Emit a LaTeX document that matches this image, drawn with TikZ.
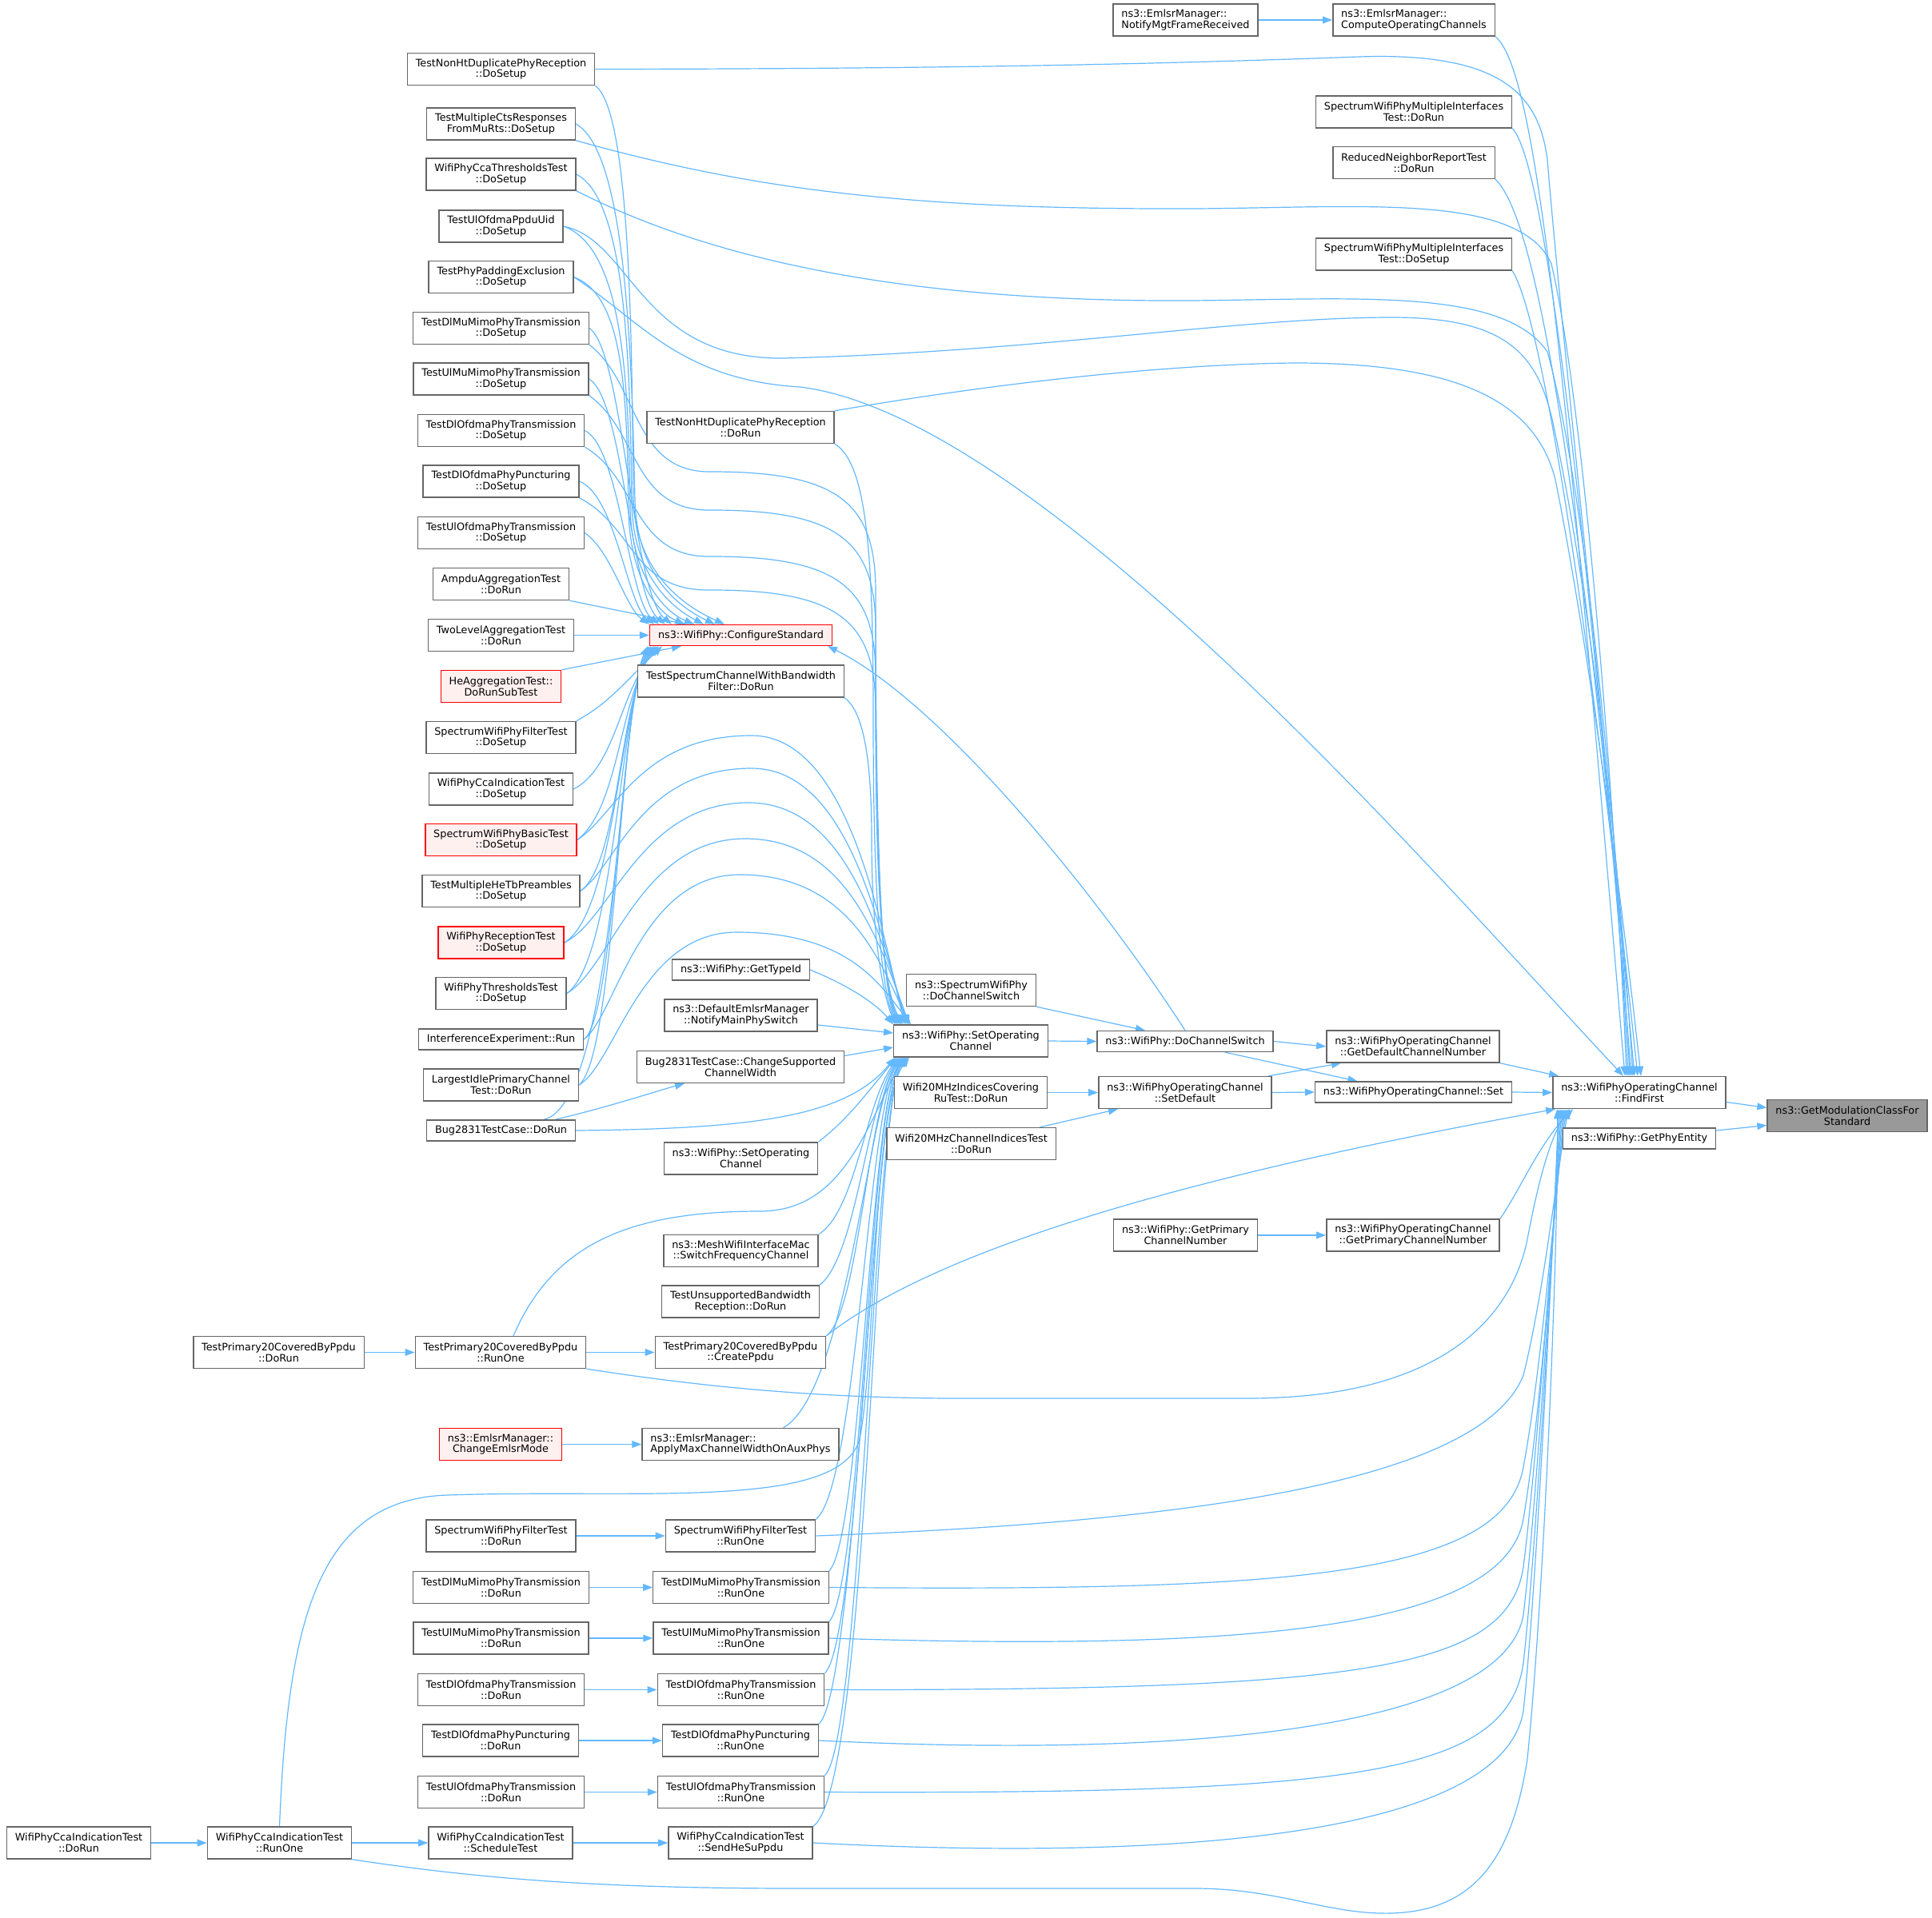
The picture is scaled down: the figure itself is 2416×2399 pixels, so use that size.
\documentclass[tikz,border=0pt]{standalone}
\usepackage{fontspec}
\setmainfont{DejaVu Sans}
\usetikzlibrary{arrows.meta,backgrounds}
\definecolor{edgeblue}{HTML}{63B8FF}
\definecolor{nodegray}{HTML}{666666}
\definecolor{hotfill}{HTML}{FFF0F0}
\definecolor{rootgray}{HTML}{999999}
\tikzset{
  fn/.style={draw=nodegray, line width=0.7pt, fill=white, align=center,
    font=\fontsize{6.4}{6.9}\selectfont, inner xsep=5.2pt, inner ysep=1pt,
    minimum height=20pt},
  one/.style={minimum height=13pt},
  lft/.style={align=left},
  hot/.style={draw=red, fill=hotfill},
  root/.style={fill=rootgray},
  call/.style={draw=edgeblue, line width=0.6pt, -{Triangle[length=6pt,width=4.4pt]}},
}
\begin{document}
\begin{tikzpicture}[x=0.5pt,y=-0.5pt]
      \useasboundingbox (0,0) rectangle (2416,2399);
      \node[fn,root] (gmc) at (2310,1395.5) {ns3::GetModulationClassFor\\Standard};
      \node[fn] (ff) at (2050,1366.5) {ns3::WifiPhyOperatingChannel\\::FindFirst};
      \node[fn,one] (gpe) at (2050,1424) {ns3::WifiPhy::GetPhyEntity};
      \node[fn,lft] (nmf) at (1482.5,25) {ns3::EmlsrManager::\\NotifyMgtFrameReceived};
      \node[fn,lft] (coc) at (1768,25) {ns3::EmlsrManager::\\ComputeOperatingChannels};
      \node[fn] (mirun) at (1768,140) {SpectrumWifiPhyMultipleInterfaces\\Test::DoRun};
      \node[fn] (rnr) at (1768,203.5) {ReducedNeighborReportTest\\::DoRun};
      \node[fn] (misetup) at (1768,318) {SpectrumWifiPhyMultipleInterfaces\\Test::DoSetup};
      \node[fn] (gdcn) at (1767,1309) {ns3::WifiPhyOperatingChannel\\::GetDefaultChannelNumber};
      \node[fn,one] (opset) at (1767.5,1366) {ns3::WifiPhyOperatingChannel::Set};
      \node[fn] (gpcn) at (1767,1545) {ns3::WifiPhyOperatingChannel\\::GetPrimaryChannelNumber};
      \node[fn,one] (dcs) at (1482,1302.5) {ns3::WifiPhy::DoChannelSwitch};
      \node[fn] (setdef) at (1482,1366.5) {ns3::WifiPhyOperatingChannel\\::SetDefault};
      \node[fn] (phygpcn) at (1482.5,1545) {ns3::WifiPhy::GetPrimary\\ChannelNumber};
      \node[fn] (swdcs) at (1214.5,1238.5) {ns3::SpectrumWifiPhy\\::DoChannelSwitch};
      \node[fn] (soc) at (1214,1302) {ns3::WifiPhy::SetOperating\\Channel};
      \node[fn] (covru) at (1214,1366.5) {Wifi20MHzIndicesCovering\\RuTest::DoRun};
      \node[fn] (chidx) at (1214.5,1430.5) {Wifi20MHzChannelIndicesTest\\::DoRun};
      \node[fn] (nhrun) at (926,534.5) {TestNonHtDuplicatePhyReception\\::DoRun};
      \node[fn,one,hot] (cs) at (926.5,794.5) {ns3::WifiPhy::ConfigureStandard};
      \node[fn] (scbw) at (926.5,852) {TestSpectrumChannelWithBandwidth\\Filter::DoRun};
      \node[fn,one] (gtid) at (926.5,1213) {ns3::WifiPhy::GetTypeId};
      \node[fn] (nmps) at (926.5,1270) {ns3::DefaultEmlsrManager\\::NotifyMainPhySwitch};
      \node[fn] (csw) at (926,1334.5) {Bug2831TestCase::ChangeSupported\\ChannelWidth};
      \node[fn] (soc2) at (926.5,1449) {ns3::WifiPhy::SetOperating\\Channel};
      \node[fn] (mesh) at (926.5,1564.5) {ns3::MeshWifiInterfaceMac\\::SwitchFrequencyChannel};
      \node[fn] (unsup) at (926,1628) {TestUnsupportedBandwidth\\Reception::DoRun};
      \node[fn] (p20cp) at (926,1691.5) {TestPrimary20CoveredByPpdu\\::CreatePpdu};
      \node[fn,lft] (amcw) at (926,1806.5) {ns3::EmlsrManager::\\ApplyMaxChannelWidthOnAuxPhys};
      \node[fn] (fltrun) at (926,1921) {SpectrumWifiPhyFilterTest\\::RunOne};
      \node[fn] (dlmmrun) at (926.5,1985.5) {TestDlMuMimoPhyTransmission\\::RunOne};
      \node[fn] (ulmmrun) at (926.5,2049) {TestUlMuMimoPhyTransmission\\::RunOne};
      \node[fn] (dlofrun) at (926.5,2113.5) {TestDlOfdmaPhyTransmission\\::RunOne};
      \node[fn] (puncrun) at (926,2177) {TestDlOfdmaPhyPuncturing\\::RunOne};
      \node[fn] (ulofrun) at (926.5,2241.5) {TestUlOfdmaPhyTransmission\\::RunOne};
      \node[fn] (sendsu) at (926,2305) {WifiPhyCcaIndicationTest\\::SendHeSuPpdu};
      \node[fn] (nhsetup) at (626.5,86.5) {TestNonHtDuplicatePhyReception\\::DoSetup};
      \node[fn] (ctssetup) at (626.5,155) {TestMultipleCtsResponses\\FromMuRts::DoSetup};
      \node[fn] (ccathr) at (626.5,218) {WifiPhyCcaThresholdsTest\\::DoSetup};
      \node[fn] (ppduuid) at (626.5,283) {TestUlOfdmaPpduUid\\::DoSetup};
      \node[fn] (padding) at (626.5,346.5) {TestPhyPaddingExclusion\\::DoSetup};
      \node[fn] (dlmmsetup) at (626.5,410.5) {TestDlMuMimoPhyTransmission\\::DoSetup};
      \node[fn] (ulmmsetup) at (626.5,474) {TestUlMuMimoPhyTransmission\\::DoSetup};
      \node[fn] (dlofsetup) at (626.5,538.5) {TestDlOfdmaPhyTransmission\\::DoSetup};
      \node[fn] (puncsetup) at (626.5,602) {TestDlOfdmaPhyPuncturing\\::DoSetup};
      \node[fn] (ulofsetup) at (626.5,666.5) {TestUlOfdmaPhyTransmission\\::DoSetup};
      \node[fn] (ampdu) at (626.5,730.5) {AmpduAggregationTest\\::DoRun};
      \node[fn] (twolevel) at (626.5,794.5) {TwoLevelAggregationTest\\::DoRun};
      \node[fn,hot] (heagg) at (626.5,858.5) {HeAggregationTest::\\DoRunSubTest};
      \node[fn] (fltsetup) at (626.5,922.5) {SpectrumWifiPhyFilterTest\\::DoSetup};
      \node[fn] (ccasetup) at (626.5,987) {WifiPhyCcaIndicationTest\\::DoSetup};
      \node[fn,hot] (basic) at (626.5,1050.5) {SpectrumWifiPhyBasicTest\\::DoSetup};
      \node[fn] (hetb) at (626.5,1114.5) {TestMultipleHeTbPreambles\\::DoSetup};
      \node[fn,hot] (rxtest) at (626.5,1179) {WifiPhyReceptionTest\\::DoSetup};
      \node[fn] (thrtest) at (626.5,1242.5) {WifiPhyThresholdsTest\\::DoSetup};
      \node[fn,one] (interf) at (626.5,1300) {InterferenceExperiment::Run};
      \node[fn] (largest) at (626.5,1357) {LargestIdlePrimaryChannel\\Test::DoRun};
      \node[fn,one] (bug) at (626.5,1414) {Bug2831TestCase::DoRun};
      \node[fn] (p20run) at (626,1691.5) {TestPrimary20CoveredByPpdu\\::RunOne};
      \node[fn,hot] (cem) at (626,1806.5) {ns3::EmlsrManager::\\ChangeEmlsrMode};
      \node[fn] (fltdorun) at (626.5,1921) {SpectrumWifiPhyFilterTest\\::DoRun};
      \node[fn] (dlmmdorun) at (626.5,1985.5) {TestDlMuMimoPhyTransmission\\::DoRun};
      \node[fn] (ulmmdorun) at (626.5,2049) {TestUlMuMimoPhyTransmission\\::DoRun};
      \node[fn] (dlofdorun) at (626.5,2113.5) {TestDlOfdmaPhyTransmission\\::DoRun};
      \node[fn] (puncdorun) at (626,2177) {TestDlOfdmaPhyPuncturing\\::DoRun};
      \node[fn] (ulofdorun) at (626.5,2241.5) {TestUlOfdmaPhyTransmission\\::DoRun};
      \node[fn] (sched) at (626,2305) {WifiPhyCcaIndicationTest\\::ScheduleTest};
      \node[fn] (p20dorun) at (348.5,1691.5) {TestPrimary20CoveredByPpdu\\::DoRun};
      \node[fn] (ccarun) at (349.5,2305) {WifiPhyCcaIndicationTest\\::RunOne};
      \node[fn] (ccadorun) at (98.5,2305) {WifiPhyCcaIndicationTest\\::DoRun};
      \begin{scope}[on background layer]
        \draw[call] (nmf.east) -- (coc.west);
        \draw[call] ([yshift=-6pt]ff.east) -- ([yshift=5pt]gmc.west);
        \draw[call] ([yshift=5pt]gpe.east) -- ([yshift=-6pt]gmc.west);
        \draw[call] (gdcn.south east) -- ([xshift=4pt]ff.north west);
        \draw[call] (opset.east) -- (ff.west);
        \draw[call] (gpcn.north east) .. controls (1900,1490) and (1925,1430) .. ([xshift=13pt]ff.south west);
        \draw[call] (phygpcn.east) -- (gpcn.west);
        \draw[call] (soc.east) -- (dcs.west);
        \draw[call] (swdcs.south east) -- ([xshift=-25pt]dcs.north);
        \draw[call] (dcs.east) -- (gdcn.west);
        \draw[call] ([xshift=25pt]dcs.south) -- ([xshift=-35pt]opset.north);
        \draw[call] ([xshift=52pt]setdef.north) -- ([xshift=-45pt]gdcn.south);
        \draw[call] (setdef.east) -- (opset.west);
        \draw[call] (covru.east) -- (setdef.west);
        \draw[call] ([xshift=43pt]chidx.north) -- ([xshift=-42pt]setdef.south);
        \draw[call] (dcs.north) .. controls (1380,1130) and (1180,880) .. ([xshift=-3pt]cs.south east);
        \draw[call] (coc.south east) .. controls (1925,90) and (1960,500) .. ([xshift=-9pt]ff.north);
        \draw[call] (nhsetup.east) .. controls (1200,86) and (1450,80) .. (1700,71) .. controls (1880,65) and (1925,120) .. (1935,200) .. controls (1960,500) and (2020,1000) .. ([xshift=-7pt]ff.north);
        \draw[call] (mirun.south east) .. controls (1930,200) and (1980,600) .. ([xshift=-5pt]ff.north);
        \draw[call] (ctssetup.south east) .. controls (950,240) and (1150,262) .. (1490,261) .. controls (1700,260) and (1900,240) .. (1940,330) .. controls (1980,500) and (2020,1000) .. ([xshift=-8pt]ff.north);
        \draw[call] (rnr.south east) .. controls (1930,280) and (1985,700) .. ([xshift=-3pt]ff.north);
        \draw[call] (ccathr.south east) .. controls (900,330) and (1150,378) .. (1490,376) .. controls (1700,374) and (1880,360) .. (1935,440) .. controls (1980,600) and (2020,1000) .. ([xshift=-6pt]ff.north);
        \draw[call] (misetup.south east) .. controls (1930,400) and (1990,800) .. ([xshift=-1pt]ff.north);
        \draw[call] (ppduuid.east) .. controls (790,300) and (800,450) .. (980,448) .. controls (1300,440) and (1550,397) .. (1740,397) .. controls (1880,397) and (1920,440) .. (1940,520) .. controls (1980,700) and (2020,1000) .. ([xshift=-4pt]ff.north);
        \draw[call] (nhrun.north east) .. controls (1300,470) and (1500,455) .. (1620,454) .. controls (1820,454) and (1920,500) .. (1945,600) .. controls (1985,800) and (2025,1100) .. ([xshift=1pt]ff.north);
        \draw[call] (padding.east) .. controls (800,400) and (850,475) .. (1000,484) .. controls (1300,520) and (1800,1100) .. ([xshift=-10pt]ff.north);
        \draw[call] (p20cp.north east) .. controls (1200,1540) and (1600,1450) .. ([xshift=2pt]ff.south west);
        \draw[call] (p20run.south east) .. controls (850,1730) and (1000,1749) .. (1200,1749) -- (1560,1749) .. controls (1800,1749) and (1890,1650) .. (1910,1550) .. controls (1925,1470) and (1940,1420) .. ([xshift=11pt]ff.south west);
        \draw[call] (fltrun.east) .. controls (1450,1905) and (1850,1860) .. (1905,1720) .. controls (1930,1620) and (1945,1480) .. ([xshift=10pt]ff.south west);
        \draw[call] (dlmmrun.east) .. controls (1600,1990) and (1880,1975) .. (1905,1835) .. controls (1930,1700) and (1945,1480) .. ([xshift=9pt]ff.south west);
        \draw[call] (ulmmrun.east) .. controls (1550,2065) and (1880,2040) .. (1905,1900) .. controls (1930,1750) and (1945,1480) .. ([xshift=8pt]ff.south west);
        \draw[call] (dlofrun.east) .. controls (1700,2114) and (1885,2090) .. (1905,1960) .. controls (1925,1800) and (1945,1480) .. ([xshift=7pt]ff.south west);
        \draw[call] (puncrun.east) .. controls (1500,2200) and (1880,2160) .. (1905,2020) .. controls (1925,1850) and (1945,1480) .. ([xshift=6pt]ff.south west);
        \draw[call] (ulofrun.east) .. controls (1700,2244) and (1885,2220) .. (1905,2080) .. controls (1925,1900) and (1945,1480) .. ([xshift=5pt]ff.south west);
        \draw[call] (sendsu.east) .. controls (1500,2330) and (1880,2290) .. (1905,2140) .. controls (1925,1950) and (1945,1480) .. ([xshift=4pt]ff.south west);
        \draw[call] (ccarun.south east) .. controls (600,2350) and (750,2362) .. (1000,2362) -- (1494,2362) .. controls (1600,2362) and (1660,2395) .. (1740,2393) .. controls (1840,2390) and (1890,2330) .. (1910,2200) .. controls (1935,1950) and (1950,1480) .. ([xshift=3pt]ff.south west);
        \draw[call] (nhsetup.south east) .. controls (790,140) and (790,450) .. (792,620) .. controls (794,720) and (860,760) .. ([xshift=47pt]cs.north west);
        \draw[call] (ctssetup.east) .. controls (785,190) and (790,460) .. (794,625) .. controls (796,720) and (850,760) .. ([xshift=41pt]cs.north west);
        \draw[call] (ccathr.east) .. controls (785,250) and (788,470) .. (790,630) .. controls (792,720) and (840,760) .. ([xshift=34pt]cs.north west);
        \draw[call] (ppduuid.east) .. controls (780,310) and (786,480) .. (788,635) .. controls (790,720) and (830,765) .. ([xshift=28pt]cs.north west);
        \draw[call] (padding.east) .. controls (780,370) and (784,490) .. (786,640) .. controls (788,720) and (820,765) .. ([xshift=22pt]cs.north west);
        \draw[call] (dlmmsetup.east) .. controls (780,440) and (790,740) .. ([xshift=14pt]cs.north west);
        \draw[call] (ulmmsetup.east) .. controls (780,500) and (788,745) .. ([xshift=10pt]cs.north west);
        \draw[call] (dlofsetup.east) .. controls (775,560) and (786,750) .. ([xshift=6pt]cs.north west);
        \draw[call] (puncsetup.east) .. controls (770,620) and (784,755) .. ([xshift=3pt]cs.north west);
        \draw[call] (ulofsetup.east) .. controls (765,690) and (782,760) .. (cs.north west);
        \draw[call] (ampdu.south east) -- ([xshift=23pt]cs.north west);
        \draw[call] (twolevel.east) -- (cs.west);
        \draw[call] (heagg.north east) -- ([xshift=20pt]cs.south west);
        \draw[call] (fltsetup.north east) .. controls (760,880) and (775,860) .. ([xshift=8pt]cs.south west);
        \draw[call] (ccasetup.east) .. controls (770,960) and (775,865) .. ([xshift=6pt]cs.south west);
        \draw[call] (basic.east) .. controls (775,1010) and (775,870) .. ([xshift=5pt]cs.south west);
        \draw[call] (hetb.east) .. controls (775,1080) and (775,870) .. ([xshift=4pt]cs.south west);
        \draw[call] (rxtest.east) .. controls (770,1140) and (775,875) .. ([xshift=3pt]cs.south west);
        \draw[call] (thrtest.east) .. controls (770,1200) and (775,875) .. ([xshift=2pt]cs.south west);
        \draw[call] (interf.east) .. controls (770,1270) and (775,880) .. ([xshift=1pt]cs.south west);
        \draw[call] (largest.east) .. controls (770,1320) and (775,880) .. (cs.south west);
        \draw[call] ([xshift=-20pt]bug.north east) .. controls (770,1380) and (775,885) .. ([xshift=-1pt]cs.south west);
        \draw[call] (dlmmsetup.south east) .. controls (800,480) and (790,592) .. (890,590) .. controls (1050,590) and (1095,630) .. (1095,740) .. controls (1095,1000) and (1100,1230) .. ([xshift=3pt]soc.north west);
        \draw[call] (ulmmsetup.south east) .. controls (800,540) and (790,640) .. (890,638) .. controls (1050,638) and (1095,678) .. (1095,788) .. controls (1095,1020) and (1100,1230) .. ([xshift=4pt]soc.north west);
        \draw[call] (dlofsetup.south east) .. controls (800,600) and (790,698) .. (890,696) .. controls (1050,696) and (1095,736) .. (1095,846) .. controls (1095,1040) and (1100,1230) .. ([xshift=5pt]soc.north west);
        \draw[call] (puncsetup.south east) .. controls (795,660) and (790,740) .. (890,738) .. controls (1050,738) and (1095,778) .. (1095,888) .. controls (1095,1060) and (1100,1230) .. ([xshift=6pt]soc.north west);
        \draw[call] (nhrun.south east) .. controls (1085,580) and (1092,700) .. (1092,900) .. controls (1092,1100) and (1100,1230) .. ([xshift=2pt]soc.north west);
        \draw[call] (scbw.south east) .. controls (1080,890) and (1090,950) .. (1090,1050) .. controls (1090,1150) and (1100,1230) .. ([xshift=1pt]soc.north west);
        \draw[call] (basic.east) .. controls (770,1020) and (800,920) .. (940,920) .. controls (1060,920) and (1100,1150) .. ([xshift=7pt]soc.north west);
        \draw[call] (hetb.east) .. controls (770,1085) and (800,961) .. (940,961) .. controls (1060,961) and (1100,1160) .. ([xshift=8pt]soc.north west);
        \draw[call] (rxtest.east) .. controls (765,1150) and (800,1004) .. (936,1004) .. controls (1060,1004) and (1100,1170) .. ([xshift=9pt]soc.north west);
        \draw[call] (thrtest.east) .. controls (765,1210) and (800,1049) .. (932,1049) .. controls (1060,1049) and (1100,1180) .. ([xshift=10pt]soc.north west);
        \draw[call] (interf.east) .. controls (770,1270) and (800,1094) .. (925,1094) .. controls (1060,1094) and (1100,1200) .. ([xshift=10pt]soc.north west);
        \draw[call] (largest.east) .. controls (770,1330) and (800,1166) .. (921,1166) .. controls (1060,1166) and (1100,1230) .. ([xshift=11pt]soc.north west);
        \draw[call] (gtid.east) .. controls (1060,1232) and (1095,1255) .. (soc.north west);
        \draw[call] ([yshift=-6pt]nmps.east) -- ([yshift=5pt]soc.west);
        \draw[call] ([yshift=7pt]csw.east) -- ([yshift=-4pt]soc.west);
        \draw[call] ([xshift=-13pt]bug.north east) .. controls (760,1385) and (820,1365) .. ([xshift=-35pt]csw.south);
        \draw[call] (bug.east) .. controls (950,1412) and (1060,1395) .. ([xshift=1pt]soc.south west);
        \draw[call] (soc2.north east) .. controls (1060,1400) and (1080,1372) .. ([xshift=2pt]soc.south west);
        \draw[call] (mesh.north east) .. controls (1070,1515) and (1082,1380) .. ([xshift=3pt]soc.south west);
        \draw[call] (unsup.north east) .. controls (1072,1570) and (1084,1380) .. ([xshift=4pt]soc.south west);
        \draw[call] (p20cp.north east) .. controls (1075,1640) and (1085,1380) .. ([xshift=5pt]soc.south west);
        \draw[call] ([xshift=-35pt]amcw.north east) .. controls (1060,1740) and (1086,1380) .. ([xshift=5pt]soc.south west);
        \draw[call] ([xshift=8pt]p20run.north) .. controls (690,1560) and (780,1515) .. (950,1515) .. controls (1050,1515) and (1080,1420) .. ([xshift=6pt]soc.south west);
        \draw[call] (fltrun.north east) .. controls (1072,1860) and (1086,1378) .. ([xshift=6pt]soc.south west);
        \draw[call] (dlmmrun.north east) .. controls (1078,1920) and (1088,1378) .. ([xshift=7pt]soc.south west);
        \draw[call] (ulmmrun.north east) .. controls (1078,1985) and (1088,1376) .. ([xshift=7pt]soc.south west);
        \draw[call] (dlofrun.north east) .. controls (1076,2050) and (1090,1376) .. ([xshift=8pt]soc.south west);
        \draw[call] (puncrun.north east) .. controls (1072,2110) and (1090,1374) .. ([xshift=8pt]soc.south west);
        \draw[call] (ulofrun.north east) .. controls (1078,2180) and (1092,1374) .. ([xshift=9pt]soc.south west);
        \draw[call] (sendsu.north east) .. controls (1088,2235) and (1092,1372) .. ([xshift=9pt]soc.south west);
        \draw[call] (ccarun.north) .. controls (360,2020) and (400,1875) .. (560,1870) .. controls (800,1862) and (1050,1890) .. (1075,1800) .. controls (1095,1700) and (1092,1380) .. ([xshift=10pt]soc.south west);
        \draw[call] (p20dorun.east) -- (p20run.west);
        \draw[call] (p20run.east) -- (p20cp.west);
        \draw[call] (cem.east) -- (amcw.west);
        \draw[call] (fltdorun.east) -- (fltrun.west);
        \draw[call] (dlmmdorun.east) -- (dlmmrun.west);
        \draw[call] (ulmmdorun.east) -- (ulmmrun.west);
        \draw[call] (dlofdorun.east) -- (dlofrun.west);
        \draw[call] (puncdorun.east) -- (puncrun.west);
        \draw[call] (ulofdorun.east) -- (ulofrun.west);
        \draw[call] (ccadorun.east) -- (ccarun.west);
        \draw[call] (ccarun.east) -- (sched.west);
        \draw[call] (sched.east) -- (sendsu.west);
      \end{scope}
    \end{tikzpicture}
\end{document}
